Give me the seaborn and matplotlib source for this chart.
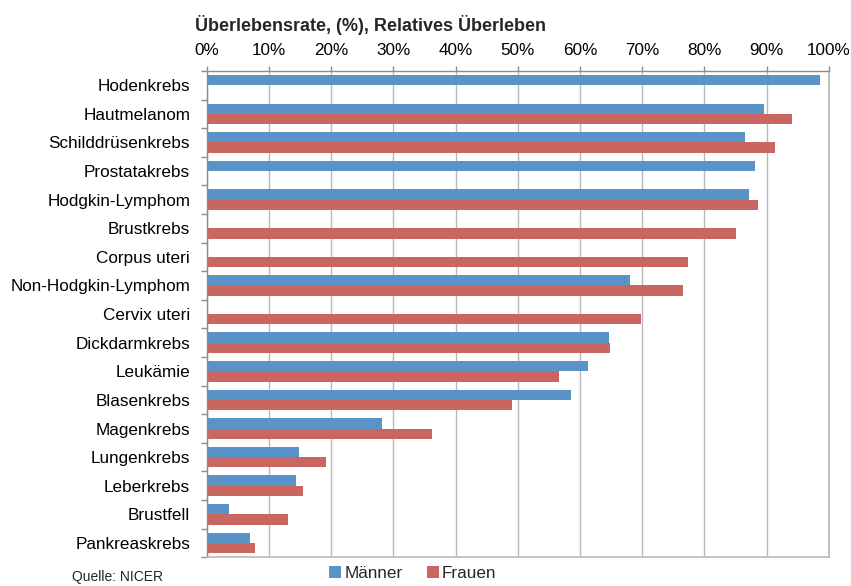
import numpy as np
import pandas as pd
import seaborn as sns
import matplotlib.pyplot as plt
from matplotlib.ticker import MultipleLocator, PercentFormatter

categories = ["Hodenkrebs", "Hautmelanom", "Schilddrüsenkrebs", "Prostatakrebs",
              "Hodgkin-Lymphom", "Brustkrebs", "Corpus uteri", "Non-Hodgkin-Lymphom",
              "Cervix uteri", "Dickdarmkrebs", "Leukämie", "Blasenkrebs", "Magenkrebs",
              "Lungenkrebs", "Leberkrebs", "Brustfell", "Pankreaskrebs"]
maenner = [98.6, 89.6, 86.5, 88.1, 87.1, np.nan, np.nan, 68.1, np.nan, 64.7,
           61.3, 58.5, 28.1, 14.9, 14.4, 3.5, 7.0]
frauen = [np.nan, 94.0, 91.3, np.nan, 88.6, 85.1, 77.4, 76.6, 69.8, 64.8,
          56.6, 49.1, 36.2, 19.2, 15.4, 13.1, 7.7]
series_names = ["Männer", "Frauen"]
colors = ["#5A93C8", "#C9665F"]

df = pd.DataFrame({
    "Kategorie": categories * 2,
    "Wert": maenner + frauen,
    "Geschlecht": [series_names[0]] * len(categories) + [series_names[1]] * len(categories),
}).dropna()

sns.set_theme(style="white")
plt.rcParams['font.family'] = ['Liberation Sans', 'DejaVu Sans']

fig = plt.figure(figsize=(8.51, 5.86), dpi=100)
ax = fig.add_axes([0.243, 0.049, 0.731, 0.830])

sns.barplot(data=df, y="Kategorie", x="Wert", hue="Geschlecht",
            hue_order=series_names, order=categories, palette=colors,
            orient="h", width=0.72, saturation=1, linewidth=0, ax=ax)

handles, labels = ax.get_legend_handles_labels()
if ax.legend_ is not None:
    ax.legend_.remove()
fig.legend(handles, labels, loc="center", bbox_to_anchor=(0.485, 0.022), ncol=2,
           frameon=False, handlelength=0.7, handleheight=0.7, handletextpad=0.2,
           columnspacing=1.4, fontsize=12.3)

ax.set_xlim(0, 100)
ax.set_ylim(len(categories) - 0.5, -0.5)
ax.xaxis.set_major_locator(MultipleLocator(10))
ax.xaxis.set_major_formatter(PercentFormatter(decimals=0))
ax.xaxis.tick_top()
ax.tick_params(axis="x", top=True, bottom=False, length=3.5, width=1, color="#8c8c8c",
               labelsize=12.3, pad=6, labelcolor="#000000")
ax.grid(axis="x", color="#b8b8b8", linewidth=1)
ax.grid(axis="y", visible=False)
ax.set_axisbelow(True)

ax.tick_params(axis="y", which="major", length=0, labelsize=12.3, pad=12, labelcolor="#000000")
ax.set_yticks(np.arange(-0.5, len(categories), 1), minor=True)
ax.tick_params(axis="y", which="minor", left=True, length=4, width=1, color="#8c8c8c")

for side in ["left", "top"]:
    ax.spines[side].set_color("#8c8c8c")
    ax.spines[side].set_linewidth(1)
ax.spines["bottom"].set_color("#bdbdbd")
ax.spines["right"].set_color("#b8b8b8")

ax.set_xlabel("")
ax.set_ylabel("")

fig.text(0.229, 0.957, "Überlebensrate, (%), Relatives Überleben",
         fontweight="bold", fontsize=13, va="center", ha="left")
fig.text(0.085, 0.004, "Quelle: NICER", fontsize=10, va="bottom", ha="left")

fig.savefig("out.png", dpi=100)
